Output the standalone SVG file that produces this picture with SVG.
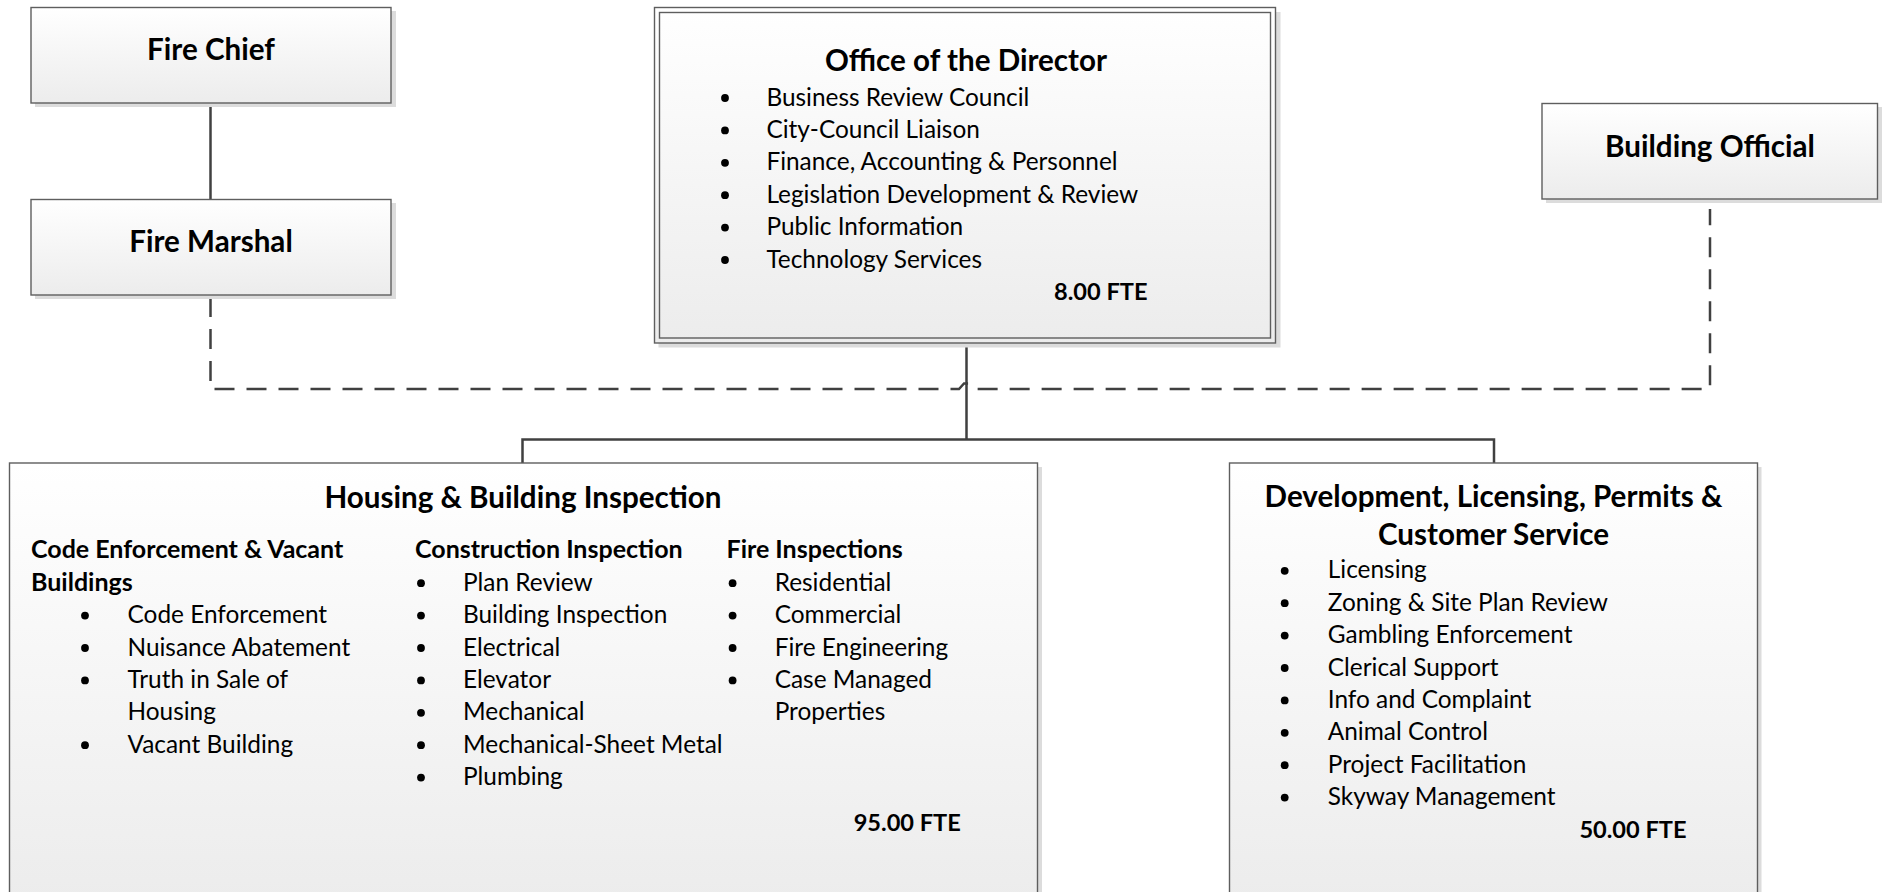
<svg xmlns="http://www.w3.org/2000/svg" width="1883" height="892" viewBox="0 0 1883 892">
<defs>
<linearGradient id="g" x1="0" y1="0" x2="0" y2="1">
<stop offset="0" stop-color="#ffffff"/>
<stop offset="1" stop-color="#ececec"/>
</linearGradient>
<style>
.box{fill:url(#g);stroke:#5e5e5e;stroke-width:1.4}
.sh{fill:#dcdcdc}
.t{font-family:Lato,"Open Sans","Liberation Sans",sans-serif;fill:#000}
.h{font-size:29.6px;font-weight:bold}
.sb{font-size:25px;font-weight:bold}
.f{font-size:23.6px;font-weight:bold}
.b{font-size:24.4px}
.c{text-anchor:middle}
.dot{fill:#000}
.con{fill:none;stroke:#404040;stroke-width:2.5}
.dash{fill:none;stroke:#404040;stroke-width:2.5;stroke-dasharray:20 12}
</style>
</defs>
<rect width="1883" height="892" fill="#fff"/>

<g id="connectors">
<path class="con" d="M210.5 103 V199"/>
<path class="dash" d="M210.5 297 V389 H959 L964 383.5 L969 383.5 L974 389 H1710 V209"/>
<path class="con" d="M966.5 343 V439.5 M522.5 463 V439.5 H1494 V463"/>
</g>

<g id="fire-chief">
<rect class="sh" x="35" y="11" width="361" height="96"/>
<rect class="box" x="31" y="7.5" width="360" height="95.5"/>
<text class="t h c" x="211" y="59.5">Fire Chief</text>
</g>

<g id="fire-marshal">
<rect class="sh" x="35" y="203" width="361" height="96"/>
<rect class="box" x="31" y="199.5" width="360" height="95.5"/>
<text class="t h c" x="211" y="251.5">Fire Marshal</text>
</g>

<g id="building-official">
<rect class="sh" x="1546" y="107" width="336" height="96"/>
<rect class="box" x="1542" y="103.5" width="335.5" height="95.5"/>
<text class="t h c" x="1710" y="156.5">Building Official</text>
</g>

<g id="office-of-the-director">
<rect class="sh" x="658.5" y="12" width="622" height="335.5"/>
<rect class="box" x="654.5" y="7.5" width="621" height="335.5"/>
<rect fill="none" stroke="#5e5e5e" stroke-width="1.4" x="659.5" y="12.5" width="611" height="325.5"/>
<text class="t h c" x="966" y="71">Office of the Director</text>
<circle class="dot" cx="725" cy="98" r="3.9"/>
<circle class="dot" cx="725" cy="130.4" r="3.9"/>
<circle class="dot" cx="725" cy="162.8" r="3.9"/>
<circle class="dot" cx="725" cy="195.2" r="3.9"/>
<circle class="dot" cx="725" cy="227.6" r="3.9"/>
<circle class="dot" cx="725" cy="260" r="3.9"/>
<text class="t b" x="766.4" y="105.5">Business Review Council</text>
<text class="t b" x="766.4" y="137.9">City-Council Liaison</text>
<text class="t b" x="766.4" y="170.3">Finance, Accounting &amp; Personnel</text>
<text class="t b" x="766.4" y="202.7">Legislation Development &amp; Review</text>
<text class="t b" x="766.4" y="235.1">Public Information</text>
<text class="t b" x="766.4" y="267.5">Technology Services</text>
<text class="t f" x="1054" y="299.5">8.00 FTE</text>
</g>

<g id="housing-building-inspection">
<rect class="sh" x="14" y="467" width="1028" height="440"/>
<rect class="box" x="9.5" y="463" width="1028" height="440"/>
<text class="t h c" x="523" y="508.3">Housing &amp; Building Inspection</text>
<text class="t sb" x="31" y="558.3">Code Enforcement &amp; Vacant</text>
<text class="t sb" x="31" y="590.7">Buildings</text>
<circle class="dot" cx="85" cy="615.6" r="3.9"/>
<circle class="dot" cx="85" cy="648" r="3.9"/>
<circle class="dot" cx="85" cy="680.4" r="3.9"/>
<circle class="dot" cx="85" cy="745.2" r="3.9"/>
<text class="t b" x="127.5" y="623.1">Code Enforcement</text>
<text class="t b" x="127.5" y="655.5">Nuisance Abatement</text>
<text class="t b" x="127.5" y="687.9">Truth in Sale of</text>
<text class="t b" x="127.5" y="720.3">Housing</text>
<text class="t b" x="127.5" y="752.7">Vacant Building</text>
<text class="t sb" x="415" y="558.3">Construction Inspection</text>
<circle class="dot" cx="421" cy="583.2" r="3.9"/>
<circle class="dot" cx="421" cy="615.6" r="3.9"/>
<circle class="dot" cx="421" cy="648" r="3.9"/>
<circle class="dot" cx="421" cy="680.4" r="3.9"/>
<circle class="dot" cx="421" cy="712.8" r="3.9"/>
<circle class="dot" cx="421" cy="745.2" r="3.9"/>
<circle class="dot" cx="421" cy="777.6" r="3.9"/>
<text class="t b" x="463" y="590.7">Plan Review</text>
<text class="t b" x="463" y="623.1">Building Inspection</text>
<text class="t b" x="463" y="655.5">Electrical</text>
<text class="t b" x="463" y="687.9">Elevator</text>
<text class="t b" x="463" y="720.3">Mechanical</text>
<text class="t b" x="463" y="752.7">Mechanical-Sheet Metal</text>
<text class="t b" x="463" y="785.1">Plumbing</text>
<text class="t sb" x="726.5" y="558.3">Fire Inspections</text>
<circle class="dot" cx="732.6" cy="583.2" r="3.9"/>
<circle class="dot" cx="732.6" cy="615.6" r="3.9"/>
<circle class="dot" cx="732.6" cy="648" r="3.9"/>
<circle class="dot" cx="732.6" cy="680.4" r="3.9"/>
<text class="t b" x="774.7" y="590.7">Residential</text>
<text class="t b" x="774.7" y="623.1">Commercial</text>
<text class="t b" x="774.7" y="655.5">Fire Engineering</text>
<text class="t b" x="774.7" y="687.9">Case Managed</text>
<text class="t b" x="774.7" y="720.3">Properties</text>
<text class="t f" x="853.7" y="831">95.00 FTE</text>
</g>

<g id="development-licensing-permits">
<rect class="sh" x="1233.5" y="467" width="528" height="440"/>
<rect class="box" x="1229.5" y="463" width="528" height="440"/>
<text class="t h c" x="1493.5" y="506.7">Development, Licensing, Permits &amp;</text>
<text class="t h c" x="1493.5" y="545">Customer Service</text>
<circle class="dot" cx="1284.7" cy="570.8" r="3.9"/>
<circle class="dot" cx="1284.7" cy="603.2" r="3.9"/>
<circle class="dot" cx="1284.7" cy="635.6" r="3.9"/>
<circle class="dot" cx="1284.7" cy="668" r="3.9"/>
<circle class="dot" cx="1284.7" cy="700.4" r="3.9"/>
<circle class="dot" cx="1284.7" cy="732.8" r="3.9"/>
<circle class="dot" cx="1284.7" cy="765.2" r="3.9"/>
<circle class="dot" cx="1284.7" cy="797.6" r="3.9"/>
<text class="t b" x="1327.8" y="578.3">Licensing</text>
<text class="t b" x="1327.8" y="610.7">Zoning &amp; Site Plan Review</text>
<text class="t b" x="1327.8" y="643.1">Gambling Enforcement</text>
<text class="t b" x="1327.8" y="675.5">Clerical Support</text>
<text class="t b" x="1327.8" y="707.9">Info and Complaint</text>
<text class="t b" x="1327.8" y="740.3">Animal Control</text>
<text class="t b" x="1327.8" y="772.7">Project Facilitation</text>
<text class="t b" x="1327.8" y="805.1">Skyway Management</text>
<text class="t f" x="1579.4" y="838">50.00 FTE</text>
</g>
</svg>
